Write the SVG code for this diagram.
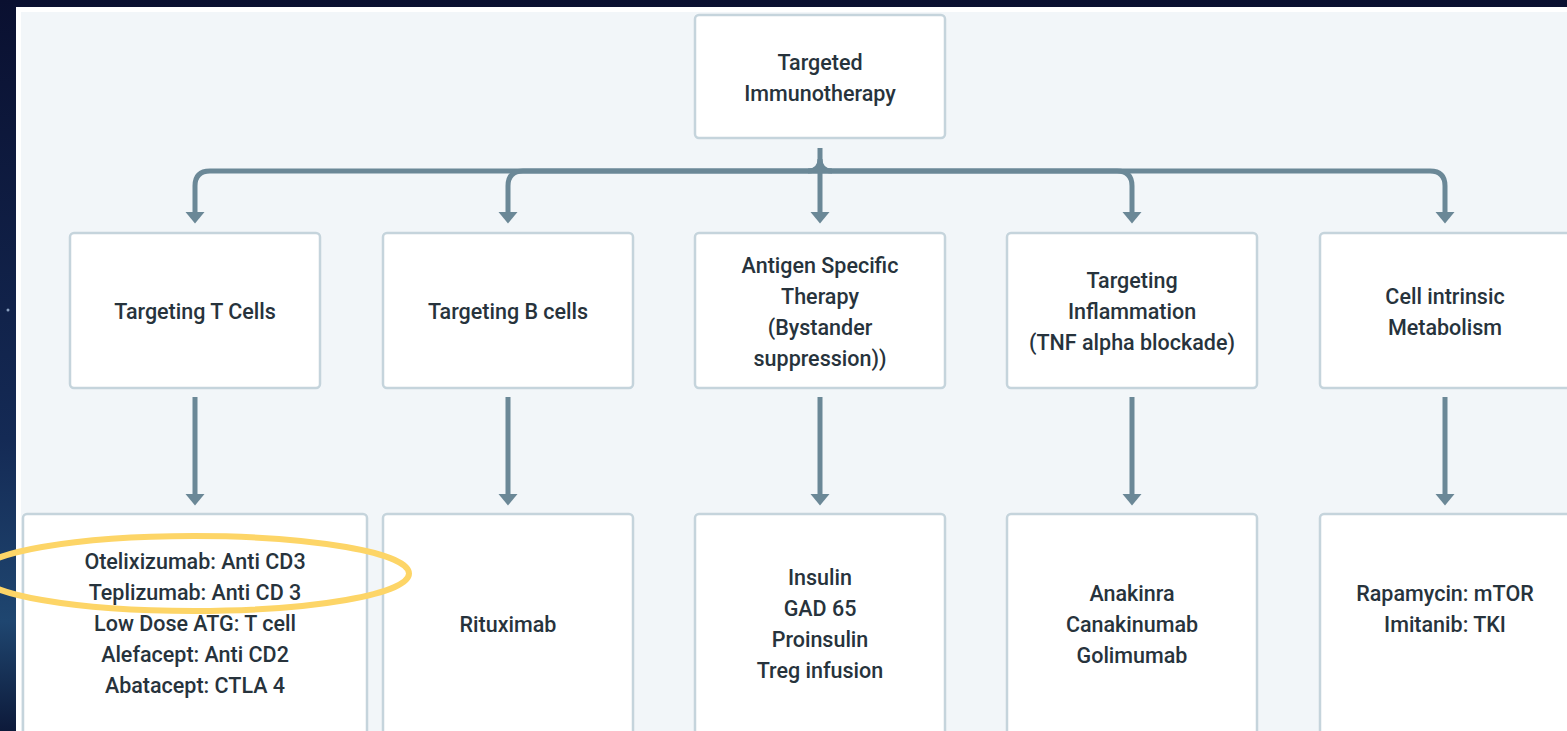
<svg xmlns="http://www.w3.org/2000/svg" width="1567" height="731" viewBox="0 0 1567 731">
<defs>
<linearGradient id="bg" x1="0" y1="0" x2="0" y2="1">
<stop offset="0" stop-color="#0a1030"/>
<stop offset="0.6" stop-color="#142a55"/>
<stop offset="0.85" stop-color="#1f4670"/>
<stop offset="1" stop-color="#0d1a3a"/>
</linearGradient>
<marker id="ah" markerUnits="userSpaceOnUse" markerWidth="12" markerHeight="20" refX="0" refY="10" orient="auto" viewBox="0 0 12 20">
<path d="M0,0.5 L11.5,10 L0,19.5 z" fill="#6b8897"/>
</marker>
<style>
.box{fill:#ffffff;stroke:#c5d4dc;stroke-width:2.5}
.t{font-family:Roboto,"Liberation Sans",Arial,sans-serif;font-weight:500;font-size:21.5px;fill:#27333c;text-anchor:middle}
.c{fill:none;stroke:#6b8897;stroke-width:5}
</style>
</defs>
<rect x="0" y="0" width="1567" height="731" fill="url(#bg)"/>
<rect x="16" y="7" width="1560" height="730" fill="#ffffff"/>
<rect x="21" y="12" width="1560" height="730" fill="#f2f6f9"/>
<circle cx="8" cy="310" r="1.5" fill="#8aa0c0"/>

<g id="connectors">
<path class="c" d="M820 148 V212" marker-end="url(#ah)"/>
<path class="c" d="M820 171 H210 Q195 171 195 186 V212" marker-end="url(#ah)"/>
<path class="c" d="M820 171 H523 Q508 171 508 186 V212" marker-end="url(#ah)"/>
<path class="c" d="M820 171 H1117 Q1132 171 1132 186 V212" marker-end="url(#ah)"/>
<path class="c" d="M820 171 H1430 Q1445 171 1445 186 V212" marker-end="url(#ah)"/>
<path class="c" d="M808 171 Q820 171 820 159 Q820 171 832 171"/>
<path class="c" d="M195 397 V494" marker-end="url(#ah)"/>
<path class="c" d="M508 397 V494" marker-end="url(#ah)"/>
<path class="c" d="M820 397 V494" marker-end="url(#ah)"/>
<path class="c" d="M1132 397 V494" marker-end="url(#ah)"/>
<path class="c" d="M1445 397 V494" marker-end="url(#ah)"/>
</g>

<g id="root">
<rect class="box" x="695" y="15" width="250" height="123" rx="4"/>
<text class="t" x="820" y="70">Targeted</text>
<text class="t" x="820" y="101">Immunotherapy</text>
</g>

<g id="tcells">
<rect class="box" x="70" y="233" width="250" height="155" rx="4"/>
<text class="t" x="195" y="319">Targeting T Cells</text>
</g>
<g id="bcells">
<rect class="box" x="383" y="233" width="250" height="155" rx="4"/>
<text class="t" x="508" y="319">Targeting B cells</text>
</g>
<g id="antigen">
<rect class="box" x="695" y="233" width="250" height="155" rx="4"/>
<text class="t" x="820" y="273">Antigen Specific</text>
<text class="t" x="820" y="304">Therapy</text>
<text class="t" x="820" y="335">(Bystander</text>
<text class="t" x="820" y="366">suppression))</text>
</g>
<g id="inflammation">
<rect class="box" x="1007" y="233" width="250" height="155" rx="4"/>
<text class="t" x="1132" y="288">Targeting</text>
<text class="t" x="1132" y="319">Inflammation</text>
<text class="t" x="1132" y="350">(TNF alpha blockade)</text>
</g>
<g id="metabolism">
<rect class="box" x="1320" y="233" width="260" height="155" rx="4"/>
<text class="t" x="1445" y="304">Cell intrinsic</text>
<text class="t" x="1445" y="335">Metabolism</text>
</g>

<g id="tcell-drugs">
<rect class="box" x="23" y="514" width="344" height="230" rx="4"/>
<text class="t" x="195" y="569">Otelixizumab: Anti CD3</text>
<text class="t" x="195" y="600">Teplizumab: Anti CD 3</text>
<text class="t" x="195" y="631">Low Dose ATG: T cell</text>
<text class="t" x="195" y="662">Alefacept: Anti CD2</text>
<text class="t" x="195" y="693">Abatacept: CTLA 4</text>
</g>
<g id="bcell-drugs">
<rect class="box" x="383" y="514" width="250" height="230" rx="4"/>
<text class="t" x="508" y="632">Rituximab</text>
</g>
<g id="antigen-drugs">
<rect class="box" x="695" y="514" width="250" height="230" rx="4"/>
<text class="t" x="820" y="585">Insulin</text>
<text class="t" x="820" y="616">GAD 65</text>
<text class="t" x="820" y="647">Proinsulin</text>
<text class="t" x="820" y="678">Treg infusion</text>
</g>
<g id="inflammation-drugs">
<rect class="box" x="1007" y="514" width="250" height="230" rx="4"/>
<text class="t" x="1132" y="601">Anakinra</text>
<text class="t" x="1132" y="632">Canakinumab</text>
<text class="t" x="1132" y="663">Golimumab</text>
</g>
<g id="metabolism-drugs">
<rect class="box" x="1320" y="514" width="260" height="230" rx="4"/>
<text class="t" x="1445" y="601">Rapamycin: mTOR</text>
<text class="t" x="1445" y="632">Imitanib: TKI</text>
</g>

<ellipse id="highlight" cx="194" cy="573.5" rx="215" ry="37.5" fill="none" stroke="#fdd567" stroke-width="6"/>
</svg>
